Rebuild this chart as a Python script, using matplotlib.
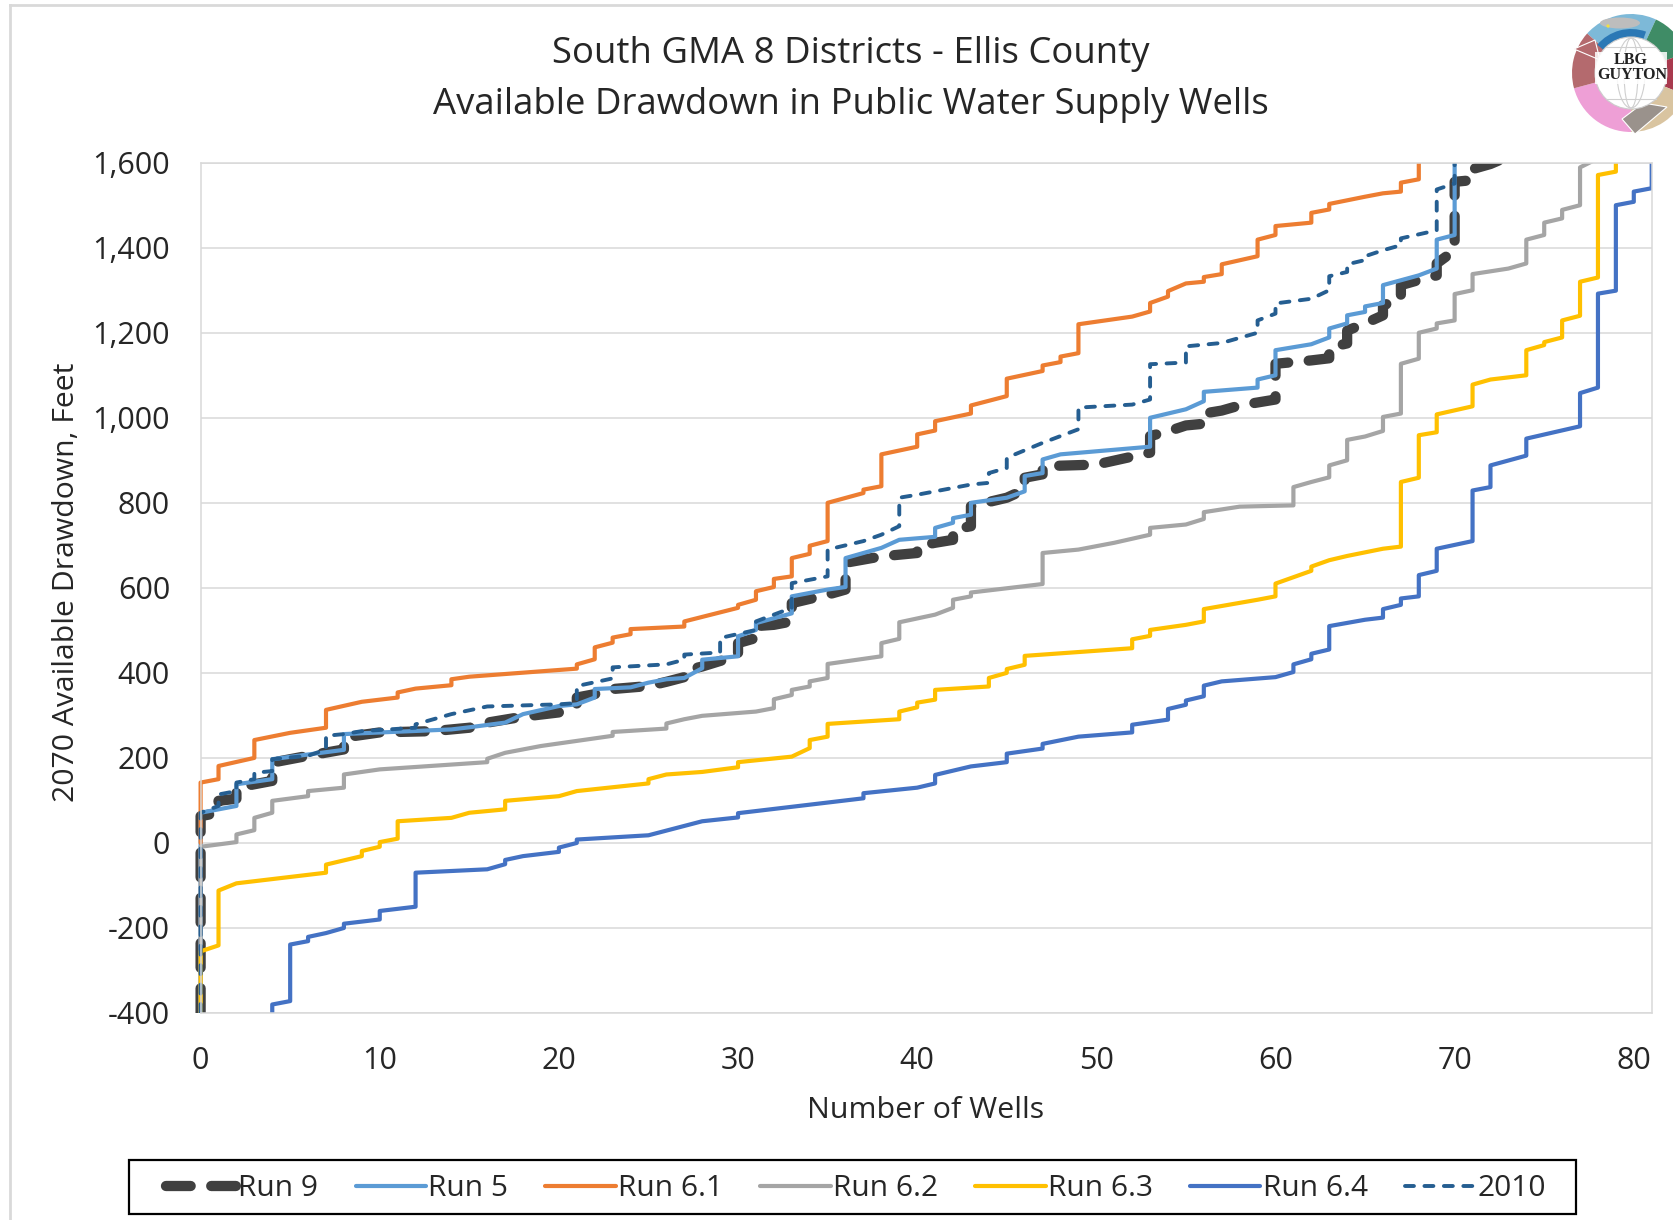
import matplotlib
matplotlib.use("Agg")
import matplotlib.pyplot as plt
from matplotlib.patches import Circle, Wedge, Rectangle, Polygon, Ellipse
from matplotlib.lines import Line2D
from matplotlib.transforms import Bbox, TransformedBbox

plt.rcParams['font.family'] = ['Open Sans', 'DejaVu Sans']

TITLE = "South GMA 8 Districts - Ellis County\nAvailable Drawdown in Public Water Supply Wells"
XLABEL = "Number of Wells"
YLABEL = "2070 Available Drawdown, Feet"
X_TICKS = [0, 10, 20, 30, 40, 50, 60, 70, 80]
Y_TICKS = [-400, -200, 0, 200, 400, 600, 800, 1000, 1200, 1400, 1600]

run9_x = [0,0,1,1,2,2,4,4,6,8,8,10,13,15,16,18,20,21,21,22,23,25,26,27,27,28,29,30,30,31,31,32,33,33,35,36,36,38,40,40,41,42,42,43,43,45,46,46,47,47,50,53,53,54,55,56,56,57,58,60,60,62,63,63,64,64,65,66,66,67,67,68,69,69,70,70,71,71,72,73]
run9_y = [-400,63,71,99,104,130,146,189,205,220,248,260,263,271,283,297,307,326,342,350,362,369,379,390,405,415,428,440,470,482,510,513,521,564,584,596,659,674,682,698,706,713,737,745,792,812,831,859,867,886,890,918,957,968,982,986,1010,1017,1029,1043,1127,1135,1140,1165,1175,1205,1222,1241,1265,1277,1312,1324,1335,1363,1394,1555,1559,1585,1597,1615]

run5_x = [0,0,2,2,4,4,6,8,8,9,14,15,17,18,20,21,22,22,24,25,26,27,28,28,30,30,31,31,33,33,35,36,36,38,39,41,41,42,42,43,43,45,46,46,47,47,48,53,53,55,56,56,59,59,60,60,62,63,63,64,64,65,65,66,66,68,69,69,70,70]
run5_y = [-400,71,87,138,150,197,208,219,256,258,267,272,283,303,322,326,342,362,366,377,385,388,411,431,439,486,501,517,540,580,596,602,670,694,713,720,741,753,764,772,800,812,827,863,870,902,914,932,1000,1020,1039,1061,1071,1090,1100,1159,1173,1189,1210,1222,1241,1249,1262,1270,1312,1335,1351,1419,1430,1620]

run61_x = [0,0,1,1,3,3,5,7,7,9,11,11,12,14,14,15,21,21,22,22,23,23,24,24,27,27,30,30,31,31,32,32,33,33,34,34,35,35,37,37,38,38,40,40,41,41,43,43,45,45,47,47,48,48,49,49,52,53,53,54,54,55,56,56,57,57,59,59,60,60,62,62,63,63,65,66,67,67,68,68]
run61_y = [0,142,150,181,200,242,259,271,313,332,342,354,363,371,385,391,410,420,432,460,471,483,491,503,509,521,553,560,572,592,602,621,627,670,680,699,710,800,823,831,839,914,932,961,970,992,1010,1029,1051,1092,1110,1123,1131,1144,1152,1220,1238,1250,1270,1285,1298,1316,1320,1331,1338,1361,1380,1419,1430,1451,1459,1482,1490,1503,1520,1528,1532,1553,1561,1620]

run62_x = [0,0,2,2,3,3,4,4,6,6,8,8,10,16,16,17,19,21,23,23,26,26,27,28,31,32,32,33,33,34,34,35,35,38,38,39,39,41,42,42,43,43,47,47,49,51,53,53,55,56,56,58,61,61,62,63,63,64,64,65,66,66,67,67,68,68,69,69,70,70,71,71,73,74,74,75,75,76,76,77,77,78]
run62_y = [-400,-9,2,20,30,59,71,99,110,122,130,161,173,190,198,212,228,240,252,261,269,281,291,299,309,317,338,348,360,368,380,388,421,439,470,480,519,537,553,572,580,589,609,682,690,706,725,741,749,762,778,791,794,837,849,860,888,900,948,956,969,1002,1010,1127,1139,1200,1210,1222,1229,1291,1300,1338,1351,1363,1419,1430,1459,1469,1489,1500,1589,1610]

run63_x = [0,0,1,1,2,7,7,9,9,10,10,11,11,14,15,17,17,20,21,25,25,26,28,30,30,33,34,34,35,35,39,39,40,40,41,41,44,44,45,45,46,46,52,52,53,53,55,56,56,59,60,60,61,62,62,63,64,66,67,67,68,68,69,69,71,71,72,74,74,75,75,76,76,77,77,78,78,79,79]
run63_y = [-400,-255,-241,-112,-95,-70,-51,-31,-19,-9,2,10,51,59,71,79,99,110,122,140,150,161,167,178,190,203,223,242,250,280,291,309,319,330,337,360,368,388,400,409,419,440,458,479,487,501,513,521,550,572,580,610,625,640,650,665,675,692,697,849,859,959,966,1008,1027,1078,1090,1100,1159,1171,1178,1189,1229,1240,1320,1330,1571,1579,1620]

run64_x = [4,4,5,5,6,6,7,8,8,10,10,12,12,16,17,17,18,20,20,21,21,25,27,28,30,30,35,37,37,40,41,41,43,45,45,46,47,47,49,52,52,54,54,55,55,56,56,57,60,61,61,62,62,63,63,65,66,66,67,67,68,68,69,69,71,71,72,72,74,74,77,77,78,78,79,79,80,80,81,81]
run64_y = [-400,-380,-372,-239,-231,-221,-212,-200,-190,-180,-160,-150,-70,-62,-50,-40,-31,-21,-11,0,8,18,40,51,60,70,95,105,117,130,140,160,180,190,210,216,222,233,250,260,278,290,315,325,335,345,370,380,390,402,420,432,445,455,510,525,530,550,560,575,580,630,640,692,710,829,837,888,911,951,980,1058,1071,1292,1299,1500,1508,1532,1540,1620]

year2010_x = [0,0,1,1,2,2,3,3,4,4,6,7,7,8,9,12,12,14,16,20,21,21,23,23,26,27,27,29,29,31,31,33,33,35,35,37,38,39,39,40,43,44,44,45,45,47,49,49,52,53,53,55,55,57,59,59,60,60,62,63,63,64,64,65,65,66,67,67,69,69,70,70]
year2010_y = [-400,71,87,114,122,142,150,165,169,197,205,220,252,256,263,271,279,303,321,326,329,369,387,413,420,431,443,448,482,501,521,553,611,627,690,710,725,745,812,819,843,847,870,882,906,941,973,1024,1031,1043,1126,1130,1168,1176,1200,1229,1245,1269,1280,1300,1333,1343,1361,1371,1380,1394,1406,1422,1441,1537,1551,1620]

W, H = 1673, 1220
fig = plt.figure(figsize=(W / 100, H / 100), dpi=100, facecolor="white")
L, R, T, B = 200.6, 1651.7, 162.7, 1013.0
ax = fig.add_axes([L / W, 1 - B / H, (R - L) / W, (B - T) / H])
ax.set_xlim(0, 81)
ax.set_ylim(-400, 1600)
ax.set_xticks(X_TICKS)
ax.set_yticks(Y_TICKS)
ax.set_yticklabels([f"{v:,}" for v in Y_TICKS])
ax.grid(True, axis="y", color="#D9D9D9", lw=1.1)
ax.set_axisbelow(True)
ax.tick_params(length=0, labelsize=22, colors="#262626")
ax.tick_params(axis="y", pad=22)
ax.tick_params(axis="x", pad=24)
for s in ax.spines.values():
    s.set_color("#D9D9D9")
    s.set_linewidth(1.1)

clip = TransformedBbox(Bbox([[-0.006, 0], [1, 1]]), ax.transAxes)
series = [
    ("Run 9", run9_x, run9_y, "#404040", 7.4, (2.4, 2.0)),
    ("Run 5", run5_x, run5_y, "#5B9BD5", 3.0, None),
    ("Run 6.1", run61_x, run61_y, "#ED7D31", 3.0, None),
    ("Run 6.2", run62_x, run62_y, "#A5A5A5", 3.0, None),
    ("Run 6.3", run63_x, run63_y, "#FFC000", 3.0, None),
    ("Run 6.4", run64_x, run64_y, "#4472C4", 3.0, None),
    ("2010", year2010_x, year2010_y, "#255E91", 2.8, (2.3, 2.7)),
]
handles = []
for name, x, y, color, lw, dash in series:
    line, = ax.plot(x, y, color=color, lw=lw, label=name, solid_joinstyle="round",
                    solid_capstyle="round", dash_capstyle="round", dash_joinstyle="round")
    if dash:
        line.set_dashes(dash)
    line.set_clip_box(clip)
    handles.append(line)

fig.text(851 / W, 1 - 79.5 / H, TITLE, ha="center", va="center", fontsize=26.3,
         color="#262626", linespacing=1.58)
fig.text(926 / W, 1 - 1110 / H, XLABEL, ha="center", va="center", fontsize=21.9, color="#262626")
fig.text(67 / W, 1 - 582 / H, YLABEL, ha="center", va="center", rotation=90, fontsize=21.7, color="#262626")

fig.add_artist(Rectangle((129 / W, 1 - 1214 / H), (1576 - 129) / W, 54 / H, transform=fig.transFigure,
                         facecolor="white", edgecolor="black", lw=1.6, zorder=2))
leg = fig.legend(handles=handles, loc="center", bbox_to_anchor=(856 / W, 1 - 1189 / H), ncol=7,
                 frameon=False, fontsize=21.5, handlelength=2.35, handletextpad=0.08,
                 columnspacing=1.25, labelcolor="#262626")
leg.set_zorder(3)

# image frame
fig.add_artist(Line2D([10 / W, 10 / W], [0, 1 - 5 / H], color="#D9D9D9", lw=2, transform=fig.transFigure))
fig.add_artist(Line2D([10 / W, 1], [1 - 5 / H, 1 - 5 / H], color="#D9D9D9", lw=2, transform=fig.transFigure))

# logo, drawn in figure pixels
lg = fig.add_axes([0, 0, 1, 1], facecolor="none")
lg.set_xlim(0, W)
lg.set_ylim(H, 0)
lg.axis("off")
cx, cy, r = 1631, 73, 59
wedges = [
    (-138, -65, "#7DB9D8"), (-65, -20, "#3F8C66"), (-20, 22, "#A83A4E"),
    (22, 90, "#D9C4A0"), (90, 165, "#EE9FD6"), (165, 222, "#B46A6E"),
]
for a0, a1, c in wedges:
    lg.add_patch(Wedge((cx, cy), r, a0, a1, width=r - 30, facecolor=c, edgecolor="none"))
lg.add_patch(Wedge((cx, cy), 44, -140, -70, width=10, facecolor="#2B78B5", edgecolor="none"))
lg.add_patch(Ellipse((cx - 11, cy - 50), 40, 11, facecolor="#BDBDBD", edgecolor="none"))
lg.add_patch(Circle((cx - 23, cy - 47), 1.6, facecolor="#F0E040", edgecolor="none"))
lg.add_patch(Polygon([[cx - 57, cy - 24], [cx - 36, cy - 33], [cx - 31, cy - 13]], facecolor="#B46A6E",
                     edgecolor="white", lw=0.8))
lg.add_patch(Polygon([[cx - 9, cy + 46], [cx + 4, cy + 61], [cx + 36, cy + 34], [cx + 12, cy + 30]],
                     facecolor="#9A928C", edgecolor="white", lw=0.8))
lg.add_patch(Circle((cx, cy), 36, facecolor="white", edgecolor="#CCCCCC", lw=0.8))
for w in [14, 28]:
    lg.add_patch(Ellipse((cx, cy), w, 70, facecolor="none", edgecolor="#CFCFCF", lw=0.8))
for dy in [-26, 26]:
    lg.plot([cx - 25, cx + 25], [cy + dy, cy + dy], color="#CFCFCF", lw=0.8)
lg.add_patch(Rectangle((cx - 36, cy - 21), 72, 32, facecolor="white", edgecolor="none", alpha=0.85))
lg.text(cx, cy - 13, "LBG", ha="center", va="center", family=["Liberation Serif"], weight="bold",
        fontsize=11.5, color="#222222")
lg.text(cx + 1, cy + 2, "GUYTON", ha="center", va="center", family=["Liberation Serif"], weight="bold",
        fontsize=11.5, color="#222222")

fig.savefig("out.png", dpi=100)
